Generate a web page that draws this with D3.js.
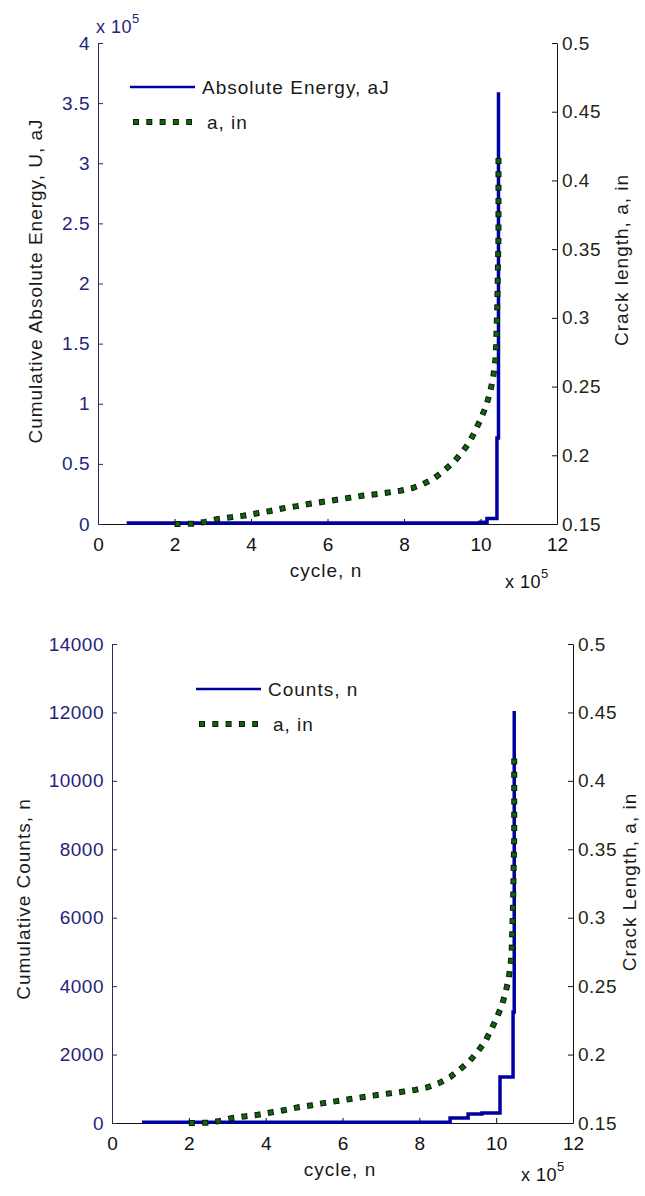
<!DOCTYPE html>
<meta charset="utf-8">
<title>Cumulative AE energy / counts and crack length vs cycles</title>
<style>
*{ margin: 0; padding: 0; }
body{ background: #fff; font-family: "Liberation Sans", Arial, sans-serif; }
svg{ display: block; }
.tick-left{ fill: #24247a; }
.tick-right{ fill: #1f2616; }
.tick-x{ fill: #111; }
.lbl{ fill: #1a1a1a; letter-spacing: 1px; }
</style>
<body>
<script src="https://cdn.jsdelivr.net/npm/d3@7"></script>
<div id="chart"></div>
<script>

var width = 645,
    height = 1196;

// cycles in real units, axis shows them x 10^5
var xTicks = [0, 200000, 400000, 600000, 800000, 1000000, 1200000];

// crack length (same test, plotted in both panels)
var crackCycle = [200000, 250000, 280000, 310000, 350000, 380000, 420000, 450000, 485000, 520000,
                  550000, 585000, 620000, 655000, 690000, 720000, 755000, 790000, 820000, 850000,
                  880000, 905000, 930000, 950000, 970000, 985000, 1000000, 1015000, 1025000, 1033000,
                  1040000, 1044000, 1047000, 1047000];
var crackA = [0.150, 0.1502, 0.1515, 0.1535, 0.155, 0.156, 0.158, 0.1595, 0.1615, 0.163,
              0.1645, 0.166, 0.1675, 0.169, 0.1705, 0.1715, 0.1728, 0.1742, 0.176, 0.179,
              0.1835, 0.189, 0.195, 0.2015, 0.209, 0.217, 0.226, 0.236, 0.246, 0.256,
              0.272, 0.31, 0.36, 0.418];
var crackTicks = [0.15, 0.2, 0.25, 0.3, 0.35, 0.4, 0.45, 0.5];

// cumulative absolute energy (aJ)
var energyCycle = [75000, 999000, 1017000, 1043000, 1047000];
var energyValue = [800, 1500, 4500, 71500, 359000];
var energyTicks = [0, 50000, 100000, 150000, 200000, 250000, 300000, 350000, 400000];

// cumulative counts
var countCycle = [78000, 880000, 927000, 963000, 1010000, 1044000, 1047000];
var countValue = [20, 146, 263, 292, 1345, 3244, 12040];
var countTicks = [0, 2000, 4000, 6000, 8000, 10000, 12000, 14000];

var svg = d3.select("#chart").append("svg")
    .attr("width", width)
    .attr("height", height);

function fmtPlain(d){ return String(+d.toFixed(4)); }

function drawPanel(cfg){
  var x = d3.scaleLinear().domain([0, 1200000]).range([cfg.left, cfg.right]);
  var yL = d3.scaleLinear().domain(cfg.leftDomain).range([cfg.bottom, cfg.top]);
  var yR = d3.scaleLinear().domain([0.15, 0.5]).range([cfg.bottom, cfg.top]);
  var g = svg.append("g");

  // x axis (ticks inward)
  var xa = g.append("g").attr("transform", "translate(0," + cfg.bottom + ")")
    .call(d3.axisBottom(x).tickValues(xTicks).tickSizeInner(-5).tickSizeOuter(0)
      .tickFormat(function(d){ return d / 100000; }));
  xa.select(".domain").attr("stroke", "#111");
  xa.selectAll(".tick line").attr("stroke", "#111");
  xa.selectAll(".tick text").attr("class", "tick-x").attr("y", 14).attr("dy", "0.71em")
    .style("font-size", "19px").style("font-family", "Liberation Sans, Arial").attr("fill", null);

  // left axis
  var la = g.append("g").attr("transform", "translate(" + cfg.left + ",0)")
    .call(d3.axisLeft(yL).tickValues(cfg.leftTicks).tickSizeInner(-5).tickSizeOuter(0)
      .tickFormat(cfg.leftFormat));
  la.select(".domain").attr("stroke", "#2a2a5e");
  la.selectAll(".tick line").attr("stroke", "#2a2a5e");
  la.selectAll(".tick text").attr("class", "tick-left").attr("x", -8).attr("fill", null)
    .style("font-size", "19px").style("letter-spacing", "0.5px").style("font-family", "Liberation Sans, Arial");

  // right axis
  var ra = g.append("g").attr("transform", "translate(" + cfg.right + ",0)")
    .call(d3.axisRight(yR).tickValues(crackTicks).tickSizeInner(-5).tickSizeOuter(0)
      .tickFormat(fmtPlain));
  ra.select(".domain").attr("stroke", "#111");
  ra.selectAll(".tick line").attr("stroke", "#111");
  ra.selectAll(".tick text").attr("class", "tick-right").attr("x", 5).attr("fill", null)
    .style("font-size", "19px").style("letter-spacing", "0.5px").style("font-family", "Liberation Sans, Arial");

  // blue step line
  var stepLine = d3.line()
    .x(function(d){ return x(d[0]); })
    .y(function(d){ return yL(d[1]); })
    .curve(d3.curveStepAfter);
  g.append("path")
    .datum(d3.zip(cfg.seriesCycle, cfg.seriesValue))
    .attr("d", stepLine)
    .attr("fill", "none")
    .attr("stroke", "#0000a0")
    .attr("stroke-width", 3.5);

  // dotted crack length
  var crackLine = d3.line()
    .x(function(d){ return x(d[0]); })
    .y(function(d){ return yR(d[1]); });
  var crackData = d3.zip(crackCycle, crackA);
  g.append("path").datum(crackData).attr("d", crackLine)
    .attr("fill", "none").attr("stroke", "#0c1a0c").attr("stroke-width", 6)
    .attr("stroke-dasharray", "6 7.3");
  g.append("path").datum(crackData).attr("d", crackLine)
    .attr("fill", "none").attr("stroke", "#0a6a0a").attr("stroke-width", 4)
    .attr("stroke-dasharray", "4 9.3").attr("stroke-dashoffset", -1);

  // axis labels
  g.append("text").attr("class", "lbl")
    .attr("transform", "translate(" + cfg.leftLabelX + "," + cfg.leftLabelY + ") rotate(-90)")
    .attr("text-anchor", "middle").attr("dy", "0.35em")
    .style("font-size", "19px").text(cfg.leftLabel);
  g.append("text").attr("class", "lbl")
    .attr("transform", "translate(" + cfg.rightLabelX + "," + cfg.rightLabelY + ") rotate(-90)")
    .attr("text-anchor", "middle").attr("dy", "0.35em")
    .style("font-size", "19px").text(cfg.rightLabel);
  g.append("text").attr("class", "lbl")
    .attr("x", cfg.xLabelX).attr("y", cfg.bottom + 53)
    .attr("text-anchor", "middle")
    .style("font-size", "19px").text("cycle, n");

  // x 10^5 multiplier under the x axis
  var mx = g.append("text").attr("class", "tick-x")
    .attr("x", cfg.xMultX).attr("y", cfg.xMultY)
    .style("font-size", "18px").style("letter-spacing", "0.5px");
  mx.append("tspan").text("x 10");
  mx.append("tspan").attr("dy", -10).style("font-size", "13px").text("5");

  // legend
  var lg = g.append("g").attr("transform", "translate(" + cfg.legX + "," + cfg.legY + ")");
  lg.append("line").attr("x1", 0).attr("x2", 65).attr("y1", 0).attr("y2", 0)
    .attr("stroke", "#0000a0").attr("stroke-width", 2.5);
  lg.append("text").attr("class", "lbl").attr("x", 72).attr("y", 0).attr("dy", "0.35em")
    .style("font-size", "19px").text(cfg.seriesName);
  lg.append("line").attr("x1", 3).attr("x2", 62).attr("y1", 35).attr("y2", 35)
    .attr("stroke", "#0c1a0c").attr("stroke-width", 6).attr("stroke-dasharray", "6 7.3");
  lg.append("line").attr("x1", 4).attr("x2", 62).attr("y1", 35).attr("y2", 35)
    .attr("stroke", "#0a6a0a").attr("stroke-width", 4).attr("stroke-dasharray", "4 9.3");
  lg.append("text").attr("class", "lbl").attr("x", 77).attr("y", 35).attr("dy", "0.35em")
    .style("font-size", "19px").text("a, in");

  return g;
}

var top1 = drawPanel({
  left: 98, right: 557, top: 43, bottom: 524,
  leftDomain: [0, 400000], leftTicks: energyTicks,
  leftFormat: function(d){ return String(d / 100000); },
  seriesCycle: energyCycle, seriesValue: energyValue,
  seriesName: "Absolute Energy, aJ",
  leftLabel: "Cumulative Absolute Energy, U, aJ", leftLabelX: 35, leftLabelY: 281,
  rightLabel: "Crack length, a, in", rightLabelX: 621, rightLabelY: 260,
  xLabelX: 326, xMultX: 505, xMultY: 588,
  legX: 130, legY: 87
});

// y multiplier above the left axis of the energy panel
var ym = top1.append("text").attr("class", "tick-left")
  .attr("x", 96).attr("y", 33)
  .style("font-size", "18px").style("letter-spacing", "0.5px");
ym.append("tspan").text("x 10");
ym.append("tspan").attr("dy", -10).style("font-size", "13px").text("5");

drawPanel({
  left: 112, right: 573, top: 644, bottom: 1123,
  leftDomain: [0, 14000], leftTicks: countTicks,
  leftFormat: function(d){ return String(d); },
  seriesCycle: countCycle, seriesValue: countValue,
  seriesName: "Counts, n",
  leftLabel: "Cumulative Counts, n", leftLabelX: 23, leftLabelY: 899,
  rightLabel: "Crack Length, a, in", rightLabelX: 629, rightLabelY: 882,
  xLabelX: 340, xMultX: 521, xMultY: 1181,
  legX: 196, legY: 689
});

</script>
</body>
</html>
